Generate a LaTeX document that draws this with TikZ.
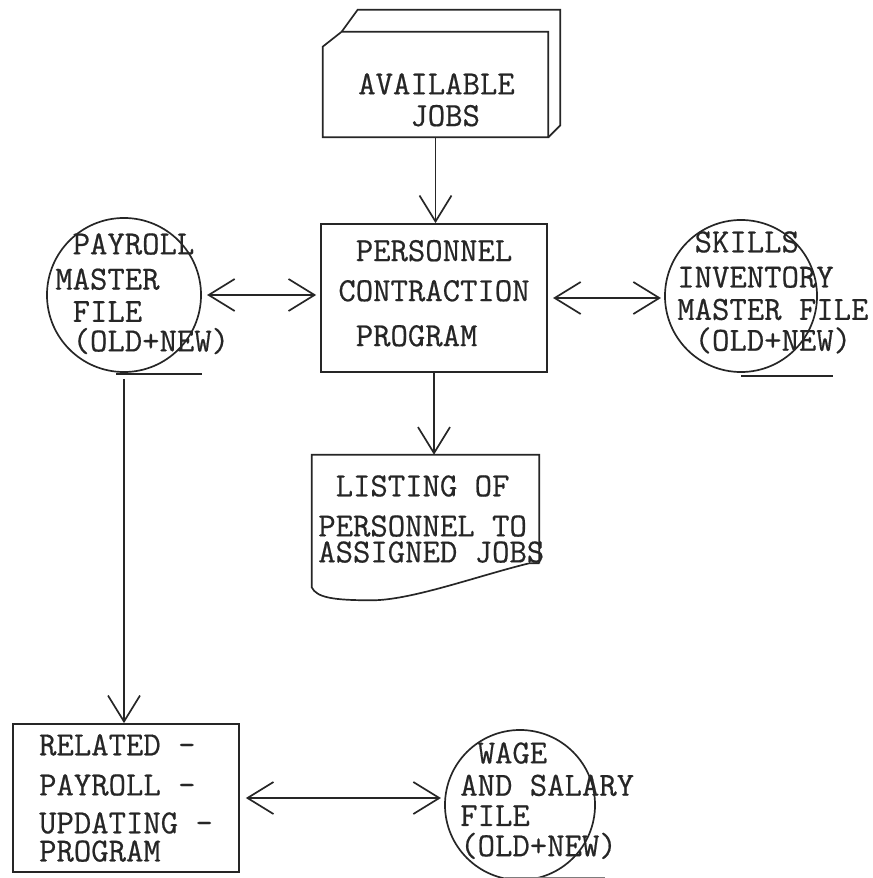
\documentclass[tikz,border=0pt]{standalone}
\usepackage{fontspec}
\usepackage{xcolor}
\usepackage{tikz}
\usetikzlibrary{positioning, shapes, arrows.meta, calc}

\newfontfamily\typefont[FakeBold=0.5]{Latin Modern Mono}
\definecolor{ink}{HTML}{262626}

\begin{document}
\begin{tikzpicture}[x=0.025cm, y=-0.025cm,
    ink line/.style={draw=ink, line width=1.2pt},
    procbox/.style={ink line, rectangle, inner sep=0pt, align=left,
        text=ink, font=\typefont\fontsize{24}{23}\selectfont},
    shapebox/.style={rectangle, inner sep=0pt},
    tapefile/.style={ink line, circle, inner sep=0pt},
    txt/.style={anchor=north west, inner sep=0pt, align=left, text=ink,
        font=\typefont\fontsize{24}{23}\selectfont},
    arr/.style={ink line, -{Straight Barb[length=6.5mm, width=8mm]}},
    biarr/.style={ink line, {Straight Barb[length=6.5mm, width=8mm]}-{Straight Barb[length=6.5mm, width=8mm]}}]

    \useasboundingbox[fill=white] (0,0) rectangle (872,878);

    % available jobs (card deck)
    \node[shapebox, minimum width=5.625cm, minimum height=2.625cm] (jobs) at (435.5,84.5) {};
    \draw[ink line] (jobs.north east) -- (jobs.south east) -- (jobs.south west)
        -- ($(jobs.north west)+(0,15)$) -- ($(jobs.north west)+(19,0)$) -- cycle;
    \draw[ink line] ($(jobs.north west)+(19,0)$) -- ++(16,-22)
        -- ($(jobs.north east)+(12,-22)$) -- ($(jobs.south east)+(12,-12)$) -- (jobs.south east);
    \node[txt] (jobs-txt) at (358,73) {AVAILABLE\\[-0.5pt]\ \ \ JOBS};

    % program boxes
    \node[procbox, minimum width=5.65cm, minimum height=3.7cm] (personnel) at (434,298)
        {\ PERSONNEL\\[5.5pt]CONTRACTION\\[9pt]\ PROGRAM\\[-16pt]};
    \node[procbox, minimum width=5.65cm, minimum height=3.7cm] (related) at (126,798)
        {RELATED -\\[5.5pt]PAYROLL -\\[4pt]UPDATING -\\[-3pt]PROGRAM};

    % master files
    \node[tapefile, minimum size=3.85cm] (payroll) at (124,295) {};
    \draw[ink line] ($(payroll.south)+(-8,1)$) -- ($(payroll.south)+(78,1)$);
    \node[txt] (payroll-txt) at (55,233) {\ PAYROLL\\[2pt]MASTER\\ \ FILE\\[-2pt]\ (OLD+NEW)};

    \node[tapefile, minimum size=3.8cm] (skills) at (741,296) {};
    \draw[ink line] ($(skills.south)+(0,3)$) -- ($(skills.south)+(92,3)$);
    \node[txt] (skills-txt) at (677,231) {\ SKILLS\\[2pt]INVENTORY\\MASTER FILE\\[-1pt]\ (OLD+NEW)};

    \node[tapefile, minimum size=3.75cm] (wage) at (520,805) {};
    \draw[ink line, draw=ink!60] ($(wage.south)+(-15,-3)$) -- ($(wage.south)+(85,-3)$);
    \node[txt] (wage-txt) at (460,742) {\ WAGE\\AND SALARY\\[-1.5pt]FILE\\[-1.5pt](OLD+NEW)};

    % listing (document)
    \node[shapebox, minimum width=5.675cm, minimum height=2.7cm] (listing) at (425.5,509) {};
    \draw[ink line] (listing.south east) -- (listing.north east) -- (listing.north west)
        -- ($(listing.south west)+(0,24)$)
        .. controls ($(listing.south west)+(5,34)$) and ($(listing.south west)+(20,37)$) .. ($(listing.south west)+(60,37)$)
        .. controls ($(listing.south west)+(100,37)$) and ($(listing.south east)+(-60,12)$) .. ($(listing.south east)+(-10,0)$)
        -- (listing.south east);
    \node[txt] (listing-txt) at (318,475) {\ LISTING OF\\[5.5pt]PERSONNEL TO\\[-4.5pt]ASSIGNED JOBS};

    % flow
    \draw[arr] (jobs.south) -- (jobs.south |- personnel.north);
    \draw[arr] (personnel.south) -- (personnel.south |- listing.north);
    \draw[biarr, shorten <=0.13cm, shorten >=0.1cm] (payroll.east) -- (payroll.east -| personnel.west);
    \draw[biarr, shorten <=0.13cm, shorten >=0.08cm] (personnel.east) -- (personnel.east -| skills.west);
    \draw[arr, shorten <=0.15cm] (payroll.south) -- (payroll.south |- related.north);
    \draw[biarr, shorten <=0.15cm, shorten >=0.08cm] (related.east) -- (related.east -| wage.west);
\end{tikzpicture}
\end{document}
